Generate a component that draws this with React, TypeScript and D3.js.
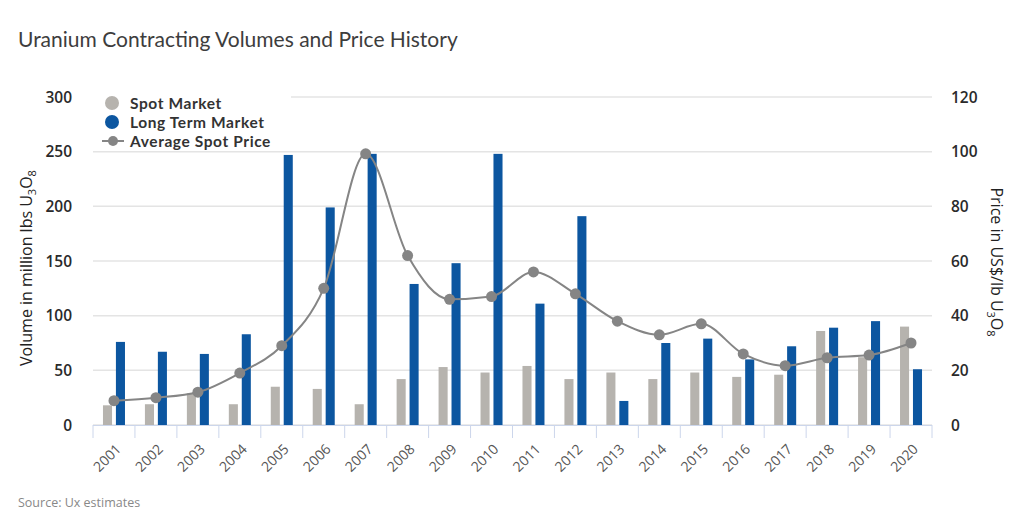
import React from "react";
import * as d3 from "d3";

const years = ["2001","2002","2003","2004","2005","2006","2007","2008","2009","2010","2011","2012","2013","2014","2015","2016","2017","2018","2019","2020"];
const spotMarket = [18, 19, 29, 19, 35, 33, 19, 42, 53, 48, 54, 42, 48, 42, 48, 44, 46, 86, 62, 90];
const longTermMarket = [76, 67, 65, 83, 247, 199, 248, 129, 148, 248, 111, 191, 22, 75, 79, 60, 72, 89, 95, 51];
const avgSpotPrice = [8.9, 10, 12, 19, 29, 50, 99.2, 62, 46, 47, 56, 48, 38, 33, 37, 26, 21.7, 24.6, 25.6, 30];
const volumeTicks = [0, 50, 100, 150, 200, 250, 300];
const priceTicks = [0, 20, 40, 60, 80, 100, 120];

const W = 1024, H = 526;
const M = { left: 93, right: 932, top: 97, bottom: 425 };
const SPOT = "#b6b3ae";
const LT = "#0c56a0";
const LINE = "#858585";
const FONT = "'Open Sans', 'DejaVu Sans', sans-serif";
const LEGEND_FONT = "Lato, 'Open Sans', sans-serif";

export default function App() {
  const x = d3.scaleBand<string>().domain(years).range([M.left, M.right]).padding(0);
  const bw = x.bandwidth();
  const inner = d3.scaleBand<string>().domain(["spot", "lt"]).range([bw / 2 - 11, bw / 2 + 11]).paddingInner(0.3);
  const yV = d3.scaleLinear().domain([0, 300]).range([M.bottom, M.top]);
  const yP = d3.scaleLinear().domain([0, 120]).range([M.bottom, M.top]);
  const line = d3.line<number>()
    .x((_, i) => (x(years[i]) as number) + bw / 2)
    .y((d) => yP(d))
    .curve(d3.curveMonotoneX);

  return (
    <svg width={W} height={H} style={{ position: "absolute", left: 0, top: 0, background: "#fff" }} fontFamily={FONT}>
      <rect width={W} height={H} fill="#fff" />
      <text x={18} y={47} fontSize={21} fill="#3d3d3d" fontFamily="Lato, 'Open Sans', sans-serif">
        Uranium Contracting Volumes and Price History
      </text>
      {/* gridlines */}
      {volumeTicks.map((t) => (
        <line key={t} x1={M.left} x2={M.right} y1={yV(t)} y2={yV(t)} stroke="#e4e4e4" strokeWidth={1.5} />
      ))}
      {/* tick labels */}
      {volumeTicks.map((t) => (
        <text key={t} x={72} y={yV(t) + 5.5} textAnchor="end" fontSize={15.5} fontWeight={600} fill="#2a2a2a">{t}</text>
      ))}
      {priceTicks.map((t) => (
        <text key={t} x={951} y={yP(t) + 5.5} textAnchor="start" fontSize={15.5} fontWeight={600} fill="#2a2a2a">{t}</text>
      ))}
      {/* axis titles */}
      <text transform={`translate(32,268) rotate(-90)`} textAnchor="middle" fontSize={16} fill="#222">
        Volume in million lbs U<tspan dy={4} fontSize={11}>3</tspan><tspan dy={-4}>O</tspan><tspan dy={4} fontSize={11}>8</tspan>
      </text>
      <text transform={`translate(991,262) rotate(90)`} textAnchor="middle" fontSize={16} fill="#222">
        Price in US$/lb U<tspan dy={4} fontSize={11}>3</tspan><tspan dy={-4}>O</tspan><tspan dy={4} fontSize={11}>8</tspan>
      </text>
      {/* bars */}
      {years.map((yr, i) => (
        <g key={yr}>
          <rect x={(x(yr) as number) + (inner("spot") as number)} width={inner.bandwidth()} y={yV(spotMarket[i])} height={yV(0) - yV(spotMarket[i])} fill={SPOT} />
          <rect x={(x(yr) as number) + (inner("lt") as number)} width={inner.bandwidth()} y={yV(longTermMarket[i])} height={yV(0) - yV(longTermMarket[i])} fill={LT} />
        </g>
      ))}
      {/* x axis */}
      <line x1={M.left} x2={M.right} y1={M.bottom + 0.5} y2={M.bottom + 0.5} stroke="#ccd6eb" strokeWidth={1} />
      {years.concat(["end"]).map((yr, i) => {
        const tx = M.left + i * bw;
        return <line key={yr} x1={tx} x2={tx} y1={M.bottom} y2={M.bottom + 13} stroke="#ccd6eb" strokeWidth={1} />;
      })}
      {years.map((yr) => {
        const cx = (x(yr) as number) + bw / 2 + 8;
        return (
          <text key={yr} transform={`translate(${cx},${M.bottom + 25}) rotate(-45)`} textAnchor="end" fontSize={14} fill="#555">{yr}</text>
        );
      })}
      {/* line */}
      <path d={line(avgSpotPrice) || ""} fill="none" stroke={LINE} strokeWidth={2} />
      {avgSpotPrice.map((p, i) => (
        <circle key={i} cx={(x(years[i]) as number) + bw / 2} cy={yP(p)} r={5.5} fill={LINE} />
      ))}
      {/* legend */}
      <rect x={93} y={90} width={198} height={58} fill="#fff" />
      <circle cx={112} cy={103} r={7} fill={SPOT} />
      <text x={130} y={108.5} fontSize={15.5} fontWeight={700} letterSpacing={0.6} fill="#333" fontFamily={LEGEND_FONT}>Spot Market</text>
      <circle cx={112} cy={122} r={7} fill={LT} />
      <text x={130} y={127.5} fontSize={15.5} fontWeight={700} letterSpacing={0.6} fill="#333" fontFamily={LEGEND_FONT}>Long Term Market</text>
      <line x1={102} x2={124} y1={141} y2={141} stroke={LINE} strokeWidth={2} />
      <circle cx={113} cy={141} r={5} fill={LINE} />
      <text x={130} y={146.5} fontSize={15.5} fontWeight={700} letterSpacing={0.6} fill="#333" fontFamily={LEGEND_FONT}>Average Spot Price</text>
      <text x={18} y={507} fontSize={12.5} fill="#888">Source: Ux estimates</text>
    </svg>
  );
}
